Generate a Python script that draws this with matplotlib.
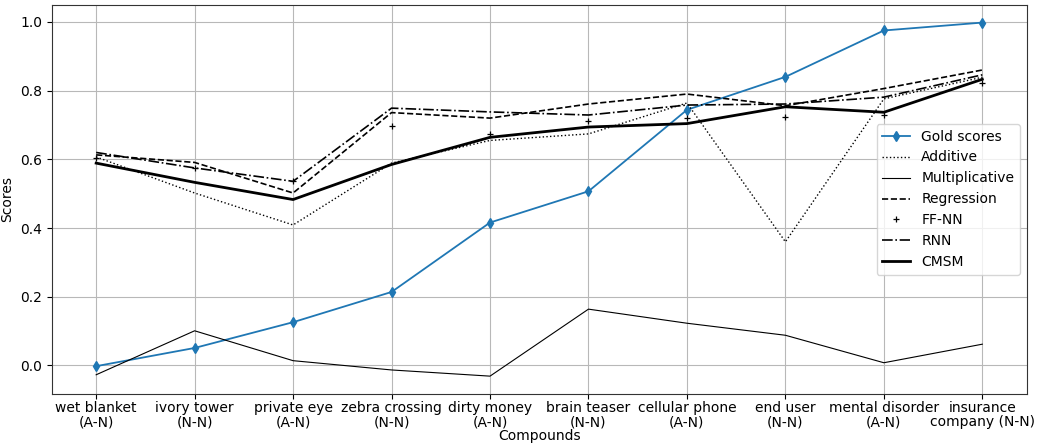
import matplotlib
matplotlib.use("Agg")
import matplotlib.pyplot as plt

compounds = [
    "wet blanket\n(A-N)", "ivory tower\n(N-N)", "private eye\n(A-N)",
    "zebra crossing\n(N-N)", "dirty money\n(A-N)", "brain teaser\n(N-N)",
    "cellular phone\n(A-N)", "end user\n(N-N)", "mental disorder\n(A-N)",
    "insurance\ncompany (N-N)",
]

gold = [-0.002, 0.051, 0.126, 0.214, 0.416, 0.507, 0.744, 0.840, 0.975, 0.998]
additive = [0.607, 0.502, 0.409, 0.589, 0.655, 0.674, 0.764, 0.360, 0.776, 0.839]
multiplicative = [-0.027, 0.101, 0.014, -0.013, -0.031, 0.164, 0.123, 0.088, 0.008, 0.062]
regression = [0.613, 0.591, 0.502, 0.736, 0.720, 0.761, 0.790, 0.756, 0.806, 0.860]
ffnn = [0.603, 0.575, 0.536, 0.697, 0.673, 0.713, 0.720, 0.724, 0.730, 0.823]
rnn = [0.620, 0.575, 0.536, 0.749, 0.738, 0.729, 0.758, 0.761, 0.781, 0.846]
cmsm = [0.589, 0.533, 0.483, 0.585, 0.664, 0.694, 0.704, 0.753, 0.737, 0.833]

fig, ax = plt.subplots(figsize=(10.37, 4.46), dpi=100)
x = range(len(compounds))

ax.plot(x, gold, marker="d", color="C0", lw=1.3, ms=5, label="Gold scores")
ax.plot(x, additive, ":", color="black", lw=1.0, label="Additive")
ax.plot(x, multiplicative, "-", color="black", lw=0.8, label="Multiplicative")
ax.plot(x, regression, "--", color="black", lw=1.2, label="Regression")
ax.plot(x, ffnn, "+", color="black", ms=5, mew=0.9, label="FF-NN")
ax.plot(x, rnn, "-.", color="black", lw=1.2, label="RNN")
ax.plot(x, cmsm, "-", color="black", lw=2.0, label="CMSM")

ax.set_xticks(list(x))
ax.set_xticklabels(compounds, fontsize=10, linespacing=1.0)
ax.tick_params(axis="x", pad=2)
ax.tick_params(axis="y", labelsize=10)
ax.set_xlabel("Compounds", fontsize=10, labelpad=0)
ax.set_ylabel("Scores", fontsize=10)
ax.grid(True, color="#b8b8b8", lw=0.8)
ax.set_axisbelow(True)
for s in ax.spines.values():
    s.set_color("#333333")

ax.legend(loc="center right", fontsize=10)

fig.subplots_adjust(left=0.050, right=0.990, bottom=0.117, top=0.989)
fig.savefig("out.png", dpi=100)
